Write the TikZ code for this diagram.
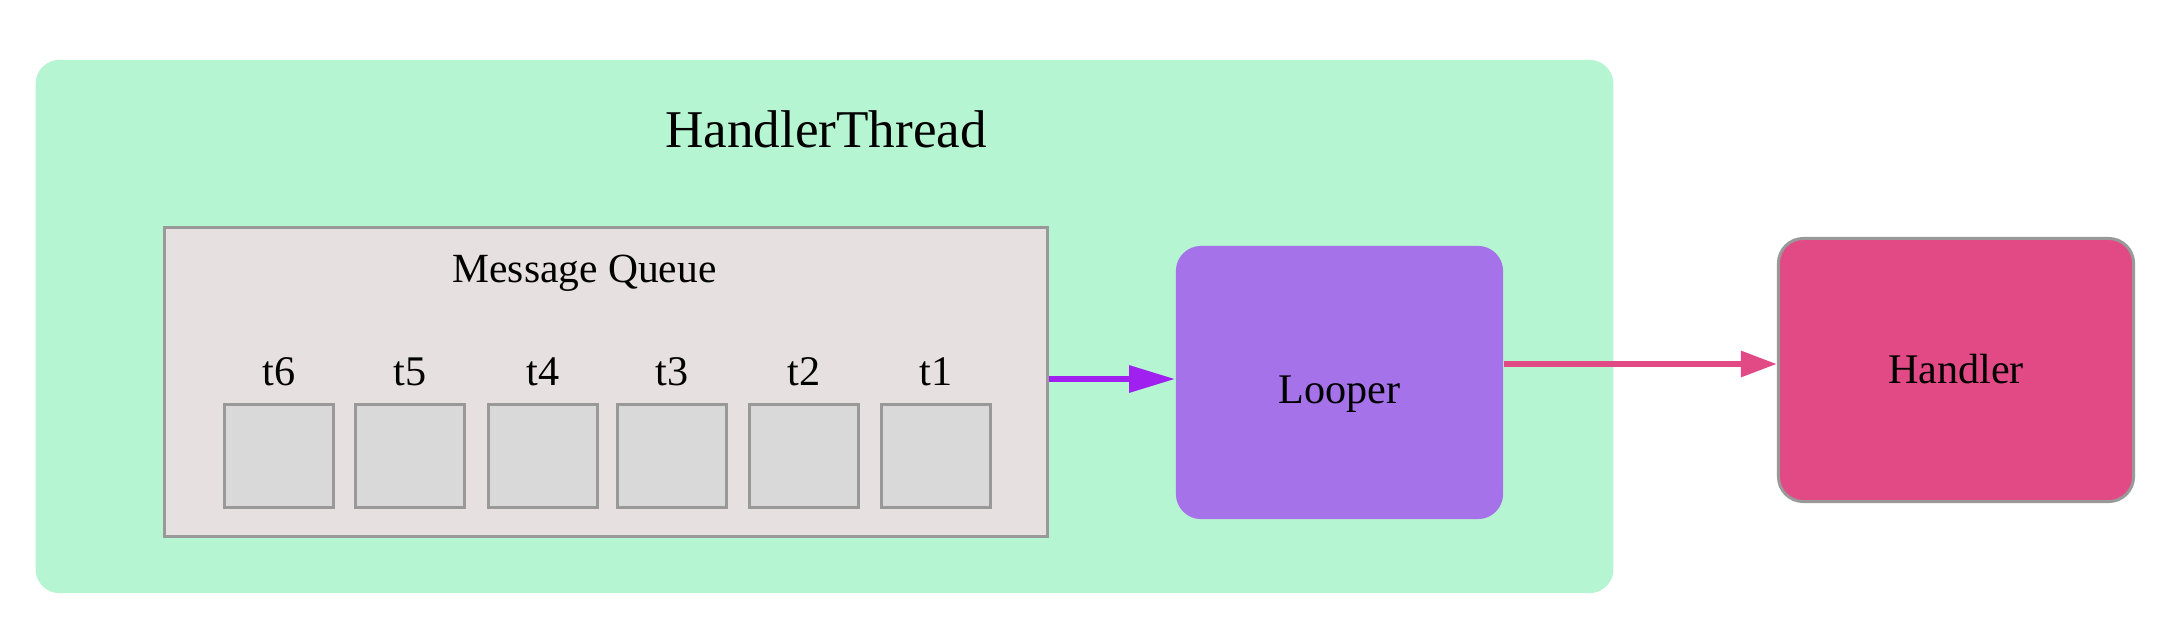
\documentclass[tikz,border=0pt]{standalone}
\usepackage{fontspec}
\setmainfont{Liberation Serif}
\usetikzlibrary{arrows.meta}
\definecolor{threadgreen}{HTML}{B5F5D1}
\definecolor{queuefill}{HTML}{E6E0E0}
\definecolor{slotfill}{HTML}{D9D9D9}
\definecolor{bordergray}{HTML}{999999}
\definecolor{looperfill}{HTML}{A672EA}
\definecolor{handlerfill}{HTML}{E24A86}
\definecolor{arrowpurple}{HTML}{A020F0}
\tikzset{
  threadbox/.style={fill=threadgreen, rounded corners=0.24cm, inner sep=0pt, minimum width=15.77cm, minimum height=5.33cm},
  queuebox/.style={fill=queuefill, draw=bordergray, line width=0.03cm, inner sep=0pt, minimum width=8.83cm, minimum height=3.09cm},
  slotbox/.style={fill=slotfill, draw=bordergray, line width=0.03cm, inner sep=0pt, minimum width=1.09cm, minimum height=1.03cm},
  looperbox/.style={fill=looperfill, rounded corners=0.25cm, inner sep=0pt, minimum width=3.27cm, minimum height=2.73cm},
  handlerbox/.style={fill=handlerfill, draw=bordergray, line width=0.03cm, rounded corners=0.25cm, inner sep=0pt, minimum width=3.55cm, minimum height=2.63cm},
  lbl/.style={anchor=base, inner sep=0pt, font=\fontsize{12}{14}\selectfont},
  biglbl/.style={anchor=base, inner sep=0pt, font=\fontsize{15.1}{18}\selectfont},
  flow/.style={line width=0.06cm}
}
\begin{document}
\begin{tikzpicture}[x=0.01cm, y=-0.01cm]
\useasboundingbox (0,0) rectangle (2169,639);
\node[threadbox] (thread) at (824.5,326.5) {};
\node[biglbl] (threadlbl) at (826,147) {HandlerThread};
\node[queuebox] (queue) at (606,382) {};
\node[lbl, font=\fontsize{11.8}{14}\selectfont] (queuelbl) at (584.5,282) {Message Queue};
\foreach \x/\t in {279/t6, 410/t5, 543/t4, 672/t3, 804/t2, 936/t1} {
  \node[slotbox] (slot\t) at (\x,456) {};
  \node[lbl] (lbl\t) at (\x,385) {\t};
}
\node[looperbox] (looper) at (1339.5,382.5) {};
\node[lbl] (looperlbl) at (1339.5,403) {Looper};
\node[handlerbox] (handler) at (1956,370) {};
\node[lbl] (handlerlbl) at (1956,383) {Handler};
\coordinate (yone) at (0,379);
\coordinate (ytwo) at (0,364);
\draw[flow, draw=arrowpurple, fill=arrowpurple, -{Triangle[length=0.46cm, width=0.26cm]}] (queue.east |- yone) -- (looper.west |- yone);
\draw[flow, draw=handlerfill, fill=handlerfill, -{Triangle[length=0.36cm, width=0.25cm]}] (looper.east |- ytwo) -- (handler.west |- ytwo);
\end{tikzpicture}
\end{document}
